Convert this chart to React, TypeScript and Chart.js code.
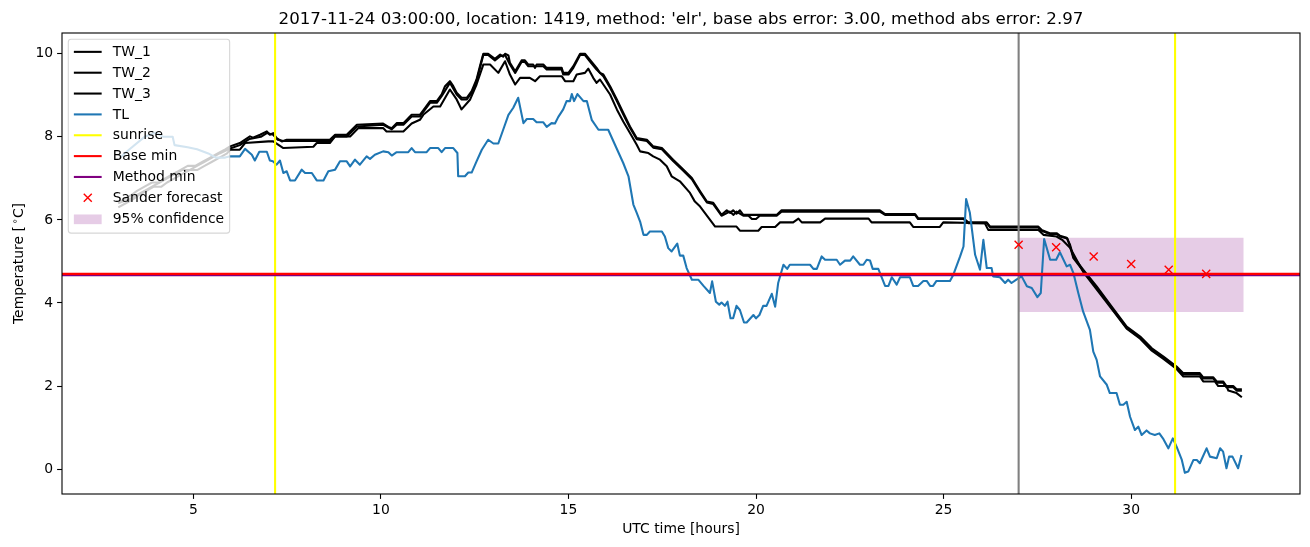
import React, { useEffect, useRef } from "react";
import { Chart, registerables } from "chart.js";

Chart.register(...registerables);

const titleText =
  "2017-11-24 03:00:00, location: 1419, method: 'elr', base abs error: 3.00, method abs error: 2.97";
const xLabel = "UTC time [hours]";

const xMin = 1.5;
const xMax = 34.5;
const yMin = -0.6;
const yMax = 10.5;
const xTicks = [5, 10, 15, 20, 25, 30];
const yTicks = [0, 2, 4, 6, 8, 10];

// [hour, temperature]
const tw1: [number, number][] = [
  [3.0, 6.4], [3.15, 6.5], [3.35, 6.6], [3.5, 6.7], [3.7, 6.8], [3.9, 6.9], [4.1, 6.9], [4.25, 7.0],
  [4.45, 7.1], [4.65, 7.2], [4.85, 7.3], [5.05, 7.3], [5.25, 7.4], [5.45, 7.5], [5.65, 7.6], [5.85, 7.7],
  [5.98, 7.77], [6.24, 7.85], [6.51, 8.01], [6.59, 7.98], [6.78, 8.05], [6.96, 8.13], [7.04, 8.05],
  [7.13, 8.09], [7.22, 7.97], [7.36, 7.89], [7.49, 7.93], [8.64, 7.93], [8.78, 8.05], [9.09, 8.05],
  [9.36, 8.29], [10.06, 8.32], [10.2, 8.24], [10.29, 8.21], [10.42, 8.33], [10.6, 8.33], [10.82, 8.53],
  [11.04, 8.53], [11.13, 8.64], [11.31, 8.86], [11.49, 8.86], [11.62, 9.02], [11.71, 9.22], [11.84, 9.34],
  [11.93, 9.22], [12.02, 9.06], [12.15, 8.94], [12.29, 8.94], [12.42, 9.1], [12.55, 9.38], [12.64, 9.7],
  [12.73, 10.0], [12.86, 10.0], [13.04, 9.88], [13.18, 9.98], [13.26, 9.93], [13.31, 10.0], [13.4, 9.96],
  [13.44, 9.78], [13.58, 9.58], [13.75, 9.84], [13.84, 9.84], [13.93, 9.74], [14.06, 9.74], [14.11, 9.66],
  [14.15, 9.74], [14.33, 9.74], [14.42, 9.66], [14.82, 9.66], [14.86, 9.54], [15.0, 9.54], [15.13, 9.7],
  [15.31, 10.0], [15.44, 10.0], [15.57, 9.86], [15.75, 9.66], [15.84, 9.54], [15.93, 9.5], [16.11, 9.22],
  [16.29, 8.9], [16.46, 8.58], [16.64, 8.25], [16.82, 7.97], [17.09, 7.93], [17.26, 7.77], [17.49, 7.73],
  [17.79, 7.45], [18.02, 7.25], [18.29, 7.01], [18.51, 6.69], [18.69, 6.44], [18.86, 6.41], [19.08, 6.12],
  [19.22, 6.23], [19.31, 6.17], [19.39, 6.23], [19.48, 6.15], [19.57, 6.23], [19.66, 6.12], [20.55, 6.12],
  [20.68, 6.23], [23.3, 6.23], [23.44, 6.14], [24.24, 6.14], [24.32, 6.04], [25.53, 6.04], [25.66, 5.94],
  [26.15, 5.94], [26.24, 5.84], [27.52, 5.84], [27.61, 5.76], [27.83, 5.68], [28.01, 5.68], [28.1, 5.62],
  [28.28, 5.57], [28.37, 5.4], [28.46, 5.11], [28.72, 4.8], [29.08, 4.4], [29.48, 3.91], [29.88, 3.43],
  [30.24, 3.19], [30.55, 2.91], [30.86, 2.71], [31.21, 2.47], [31.39, 2.31], [31.83, 2.31], [31.92, 2.21],
  [32.19, 2.21], [32.28, 2.11], [32.45, 2.11], [32.54, 2.0], [32.72, 2.0], [32.81, 1.92], [32.95, 1.92],
];

const tw2: [number, number][] = [
  [3.0, 6.4], [3.3, 6.5], [3.5, 6.6], [3.7, 6.7], [3.9, 6.8], [4.1, 6.9], [4.3, 7.0], [4.5, 7.1],
  [4.7, 7.2], [4.9, 7.2], [5.1, 7.3], [5.3, 7.4], [5.5, 7.5], [5.7, 7.6], [5.98, 7.72], [6.24, 7.8],
  [6.5, 7.95], [6.8, 8.0], [6.96, 8.09], [7.13, 8.05], [7.25, 7.93], [7.4, 7.9], [8.64, 7.9], [8.78, 8.01],
  [9.09, 8.01], [9.36, 8.25], [10.06, 8.29], [10.29, 8.18], [10.42, 8.29], [10.6, 8.29], [10.82, 8.49],
  [11.04, 8.49], [11.31, 8.82], [11.49, 8.82], [11.62, 8.98], [11.84, 9.3], [12.02, 9.02], [12.15, 8.9],
  [12.29, 8.9], [12.42, 9.06], [12.55, 9.34], [12.73, 9.97], [12.86, 9.97], [13.04, 9.84], [13.18, 9.94],
  [13.31, 9.97], [13.44, 9.74], [13.58, 9.54], [13.75, 9.8], [13.84, 9.8], [13.93, 9.7], [14.33, 9.7],
  [14.42, 9.62], [14.82, 9.62], [14.86, 9.5], [15.0, 9.5], [15.13, 9.66], [15.31, 9.97], [15.44, 9.97],
  [15.57, 9.82], [15.75, 9.62], [15.93, 9.46], [16.11, 9.18], [16.29, 8.86], [16.46, 8.54], [16.64, 8.22],
  [16.82, 7.94], [17.09, 7.9], [17.26, 7.74], [17.49, 7.7], [17.79, 7.42], [18.02, 7.22], [18.29, 6.98],
  [18.51, 6.66], [18.69, 6.42], [18.86, 6.38], [19.08, 6.1], [19.3, 6.2], [19.4, 6.12], [19.48, 6.2],
  [19.66, 6.1], [19.8, 6.1], [19.89, 6.02], [20.0, 6.02], [20.1, 6.1], [20.55, 6.1], [20.68, 6.2],
  [23.3, 6.2], [23.44, 6.12], [24.24, 6.12], [24.32, 6.02], [25.53, 6.02], [25.66, 5.92], [26.15, 5.92],
  [26.24, 5.82], [27.52, 5.82], [27.61, 5.74], [27.83, 5.66], [28.01, 5.66], [28.1, 5.6], [28.3, 5.55],
  [28.37, 5.36], [28.46, 5.08], [28.72, 4.77], [29.08, 4.37], [29.48, 3.88], [29.88, 3.4], [30.24, 3.16],
  [30.55, 2.88], [30.86, 2.68], [31.21, 2.44], [31.39, 2.28], [31.83, 2.28], [31.92, 2.18], [32.19, 2.18],
  [32.28, 2.08], [32.45, 2.08], [32.54, 1.97], [32.72, 1.97], [32.81, 1.89], [32.95, 1.89],
];

const tw3: [number, number][] = [
  [3.0, 6.3], [3.2, 6.4], [3.4, 6.5], [3.55, 6.6], [3.75, 6.7], [3.95, 6.8], [4.15, 6.8], [4.3, 6.9],
  [4.5, 7.0], [4.7, 7.1], [4.9, 7.2], [5.1, 7.2], [5.3, 7.3], [5.5, 7.4], [5.7, 7.5], [5.9, 7.6],
  [5.98, 7.69], [6.24, 7.69], [6.38, 7.85], [7.0, 7.89], [7.13, 7.89], [7.4, 7.73], [8.2, 7.76],
  [8.29, 7.85], [8.64, 7.85], [8.78, 8.01], [9.18, 8.01], [9.4, 8.21], [10.06, 8.21], [10.15, 8.13],
  [10.6, 8.13], [10.82, 8.32], [11.04, 8.41], [11.13, 8.53], [11.4, 8.73], [11.58, 8.73], [11.84, 9.14],
  [12.02, 8.9], [12.15, 8.66], [12.38, 8.9], [12.55, 9.26], [12.73, 9.74], [12.91, 9.74], [13.13, 9.54],
  [13.31, 9.82], [13.44, 9.5], [13.58, 9.26], [13.71, 9.42], [13.97, 9.42], [14.11, 9.34], [14.24, 9.46],
  [14.82, 9.46], [14.91, 9.34], [15.13, 9.34], [15.22, 9.5], [15.44, 9.54], [15.53, 9.64], [15.66, 9.42],
  [15.75, 9.3], [15.84, 9.38], [15.93, 9.26], [16.11, 9.02], [16.29, 8.66], [16.46, 8.37], [16.64, 8.09],
  [16.82, 7.81], [16.91, 7.65], [17.13, 7.61], [17.26, 7.53], [17.44, 7.45], [17.62, 7.29], [17.75, 7.05],
  [17.97, 6.93], [18.24, 6.65], [18.37, 6.44], [18.51, 6.32], [18.91, 5.84], [19.48, 5.84], [19.57, 5.74],
  [20.06, 5.74], [20.15, 5.83], [20.51, 5.83], [20.64, 5.94], [20.99, 5.94], [21.13, 6.03], [21.22, 5.94],
  [21.71, 5.94], [21.84, 6.03], [23.0, 6.03], [23.08, 5.94], [24.1, 5.94], [24.19, 5.83], [24.9, 5.83],
  [24.99, 5.94], [26.1, 5.92], [26.19, 5.76], [27.52, 5.76], [27.66, 5.64], [28.01, 5.6], [28.16, 5.52],
  [28.37, 5.33], [28.72, 4.75], [29.48, 3.86], [29.88, 3.38], [30.24, 3.14], [30.55, 2.85], [30.86, 2.65],
  [31.21, 2.41], [31.39, 2.23], [31.83, 2.23], [31.92, 2.11], [32.23, 2.11], [32.32, 2.0], [32.54, 2.0],
  [32.59, 1.89], [32.81, 1.83], [32.95, 1.73],
];

const tl: [number, number][] = [
  [3.05, 7.5], [3.3, 7.7], [3.7, 8.0], [4.0, 8.1], [4.2, 8.0], [4.45, 8.0], [4.5, 7.8], [4.85, 7.75],
  [5.1, 7.7], [5.4, 7.6], [5.6, 7.5], [5.85, 7.5], [5.98, 7.53], [6.24, 7.53], [6.38, 7.71], [6.56, 7.57],
  [6.64, 7.43], [6.76, 7.64], [6.96, 7.64], [7.04, 7.43], [7.12, 7.41], [7.22, 7.33], [7.31, 7.43],
  [7.4, 7.13], [7.49, 7.17], [7.58, 6.95], [7.71, 6.95], [7.89, 7.21], [7.98, 7.13], [8.16, 7.13],
  [8.29, 6.95], [8.47, 6.95], [8.6, 7.17], [8.78, 7.21], [8.91, 7.41], [9.09, 7.41], [9.18, 7.29],
  [9.31, 7.45], [9.44, 7.33], [9.62, 7.53], [9.71, 7.47], [9.84, 7.57], [10.06, 7.65], [10.2, 7.63],
  [10.29, 7.55], [10.42, 7.63], [10.73, 7.63], [10.82, 7.73], [10.91, 7.63], [11.22, 7.63], [11.31, 7.73],
  [11.53, 7.73], [11.62, 7.63], [11.71, 7.73], [11.93, 7.73], [12.04, 7.61], [12.06, 7.05], [12.24, 7.05],
  [12.33, 7.14], [12.42, 7.14], [12.55, 7.41], [12.69, 7.69], [12.86, 7.93], [13.0, 7.84], [13.13, 7.84],
  [13.26, 8.17], [13.4, 8.53], [13.53, 8.7], [13.66, 8.94], [13.8, 8.33], [13.89, 8.43], [14.06, 8.43],
  [14.15, 8.35], [14.33, 8.35], [14.42, 8.24], [14.55, 8.33], [14.64, 8.32], [14.73, 8.48], [14.86, 8.66],
  [14.95, 8.86], [15.04, 8.86], [15.09, 9.03], [15.15, 8.86], [15.24, 9.03], [15.4, 8.86], [15.49, 8.86],
  [15.62, 8.41], [15.8, 8.17], [16.06, 8.17], [16.24, 7.81], [16.46, 7.37], [16.6, 7.05], [16.73, 6.37],
  [16.82, 6.17], [16.91, 5.96], [17.0, 5.64], [17.09, 5.64], [17.17, 5.72], [17.49, 5.72], [17.57, 5.6],
  [17.66, 5.32], [17.75, 5.24], [17.9, 5.43], [17.97, 5.14], [18.06, 5.14], [18.15, 4.84], [18.29, 4.56],
  [18.46, 4.56], [18.6, 4.41], [18.77, 4.24], [18.83, 4.52], [18.93, 4.03], [19.02, 3.96], [19.08, 4.01],
  [19.17, 3.93], [19.24, 4.03], [19.32, 3.63], [19.39, 3.63], [19.48, 3.93], [19.57, 3.83], [19.68, 3.53],
  [19.75, 3.53], [19.93, 3.71], [20.0, 3.63], [20.09, 3.71], [20.19, 3.93], [20.28, 3.93], [20.42, 4.22],
  [20.51, 3.91], [20.59, 4.48], [20.73, 4.92], [20.83, 4.82], [20.9, 4.92], [21.44, 4.92], [21.53, 4.82],
  [21.62, 4.82], [21.75, 5.12], [21.84, 5.04], [22.15, 5.04], [22.24, 4.92], [22.37, 5.02], [22.51, 5.02],
  [22.59, 5.12], [22.77, 4.92], [22.86, 4.92], [22.95, 5.04], [23.04, 5.02], [23.11, 4.82], [23.26, 4.82],
  [23.44, 4.41], [23.53, 4.41], [23.62, 4.62], [23.75, 4.44], [23.84, 4.62], [24.1, 4.62], [24.19, 4.41],
  [24.32, 4.41], [24.46, 4.53], [24.55, 4.53], [24.64, 4.41], [24.72, 4.41], [24.81, 4.53], [25.17, 4.53],
  [25.26, 4.68], [25.44, 5.12], [25.53, 5.36], [25.6, 6.5], [25.7, 6.17], [25.84, 5.16], [25.97, 4.8],
  [26.06, 5.52], [26.15, 4.84], [26.28, 4.84], [26.32, 4.64], [26.5, 4.62], [26.64, 4.48], [26.72, 4.56],
  [26.81, 4.48], [26.95, 4.57], [27.08, 4.64], [27.22, 4.4], [27.35, 4.36], [27.5, 4.14], [27.59, 4.24],
  [27.68, 5.54], [27.84, 5.04], [28.0, 5.04], [28.1, 5.22], [28.28, 4.88], [28.37, 4.92], [28.46, 4.72],
  [28.59, 4.24], [28.72, 3.79], [28.9, 3.35], [28.99, 2.83], [29.08, 2.63], [29.17, 2.23], [29.35, 2.03],
  [29.43, 1.83], [29.61, 1.83], [29.7, 1.55], [29.79, 1.55], [29.88, 1.62], [29.97, 1.26], [30.1, 0.94],
  [30.19, 1.02], [30.28, 0.82], [30.41, 0.93], [30.5, 0.86], [30.63, 0.82], [30.75, 0.86], [30.86, 0.72],
  [30.99, 0.5], [31.11, 0.74], [31.21, 0.54], [31.35, 0.22], [31.43, -0.09], [31.52, -0.06], [31.66, 0.22],
  [31.75, 0.22], [31.83, 0.14], [32.01, 0.5], [32.1, 0.3], [32.28, 0.26], [32.37, 0.5], [32.45, 0.42],
  [32.54, 0.02], [32.61, 0.3], [32.7, 0.3], [32.85, 0.02], [32.94, 0.34],
];

const sunriseHours = [7.18, 31.17];
const forecastStartHour = 27.0;
const baseMin = 4.7;
const methodMin = 4.67;
const forecastHours = [27, 28, 29, 30, 31, 32];
const forecastTemp = [5.4, 5.34, 5.12, 4.94, 4.8, 4.7];
const confHours = [27, 33];
const confLow = [3.78, 3.78];
const confHigh = [5.57, 5.57];

const FONT = "'DejaVu Sans', 'Liberation Sans', sans-serif";
const LW = 2.08;
const PURPLE_FILL = "rgba(128,0,128,0.2)";

const pts = (arr: [number, number][]) => arr.map(([x, y]) => ({ x, y }));

const legendItems = [
  { label: "TW_1", kind: "line", color: "#000000" },
  { label: "TW_2", kind: "line", color: "#000000" },
  { label: "TW_3", kind: "line", color: "#000000" },
  { label: "TL", kind: "line", color: "#1f77b4" },
  { label: "sunrise", kind: "line", color: "#ffff00" },
  { label: "Base min", kind: "line", color: "#ff0000" },
  { label: "Method min", kind: "line", color: "#800080" },
  { label: "Sander forecast", kind: "marker", color: "#ff0000" },
  { label: "95% confidence", kind: "patch", color: PURPLE_FILL },
];

function drawX(ctx: CanvasRenderingContext2D, x: number, y: number, h: number, color: string) {
  ctx.save();
  ctx.strokeStyle = color;
  ctx.lineWidth = 1.39;
  ctx.beginPath();
  ctx.moveTo(x - h, y - h);
  ctx.lineTo(x + h, y + h);
  ctx.moveTo(x - h, y + h);
  ctx.lineTo(x + h, y - h);
  ctx.stroke();
  ctx.restore();
}

const decorPlugin = {
  id: "decor",
  afterDraw(chart: any) {
    const ctx: CanvasRenderingContext2D = chart.ctx;
    const a = chart.chartArea;
    ctx.save();
    // frame
    ctx.strokeStyle = "#000";
    ctx.lineWidth = 1.1;
    ctx.strokeRect(a.left, a.top, a.right - a.left, a.bottom - a.top);

    // title
    ctx.fillStyle = "#000";
    ctx.font = `16.67px ${FONT}`;
    ctx.textAlign = "center";
    ctx.textBaseline = "alphabetic";
    ctx.fillText(titleText, (a.left + a.right) / 2, a.top - 8.8);

    // x label
    ctx.font = `13.9px ${FONT}`;
    ctx.textBaseline = "top";
    ctx.fillText(xLabel, (a.left + a.right) / 2, a.bottom + 28);

    // y label
    ctx.save();
    ctx.translate(18, (a.top + a.bottom) / 2);
    ctx.rotate(-Math.PI / 2);
    ctx.textAlign = "left";
    ctx.textBaseline = "alphabetic";
    const p1 = "Temperature [";
    const p2 = "\u2218";
    const p3 = "C]";
    ctx.font = `13.9px ${FONT}`;
    const w1 = ctx.measureText(p1).width;
    const w3 = ctx.measureText(p3).width;
    ctx.font = `9.7px ${FONT}`;
    const w2 = ctx.measureText(p2).width;
    const total = w1 + 2 + w2 + w3;
    let cx = -total / 2;
    ctx.font = `13.9px ${FONT}`;
    ctx.fillText(p1, cx, 5);
    cx += w1 + 2;
    ctx.font = `9.7px ${FONT}`;
    ctx.fillText(p2, cx, 0);
    cx += w2;
    ctx.font = `13.9px ${FONT}`;
    ctx.fillText(p3, cx, 5);
    ctx.restore();

    // legend
    ctx.font = `13.9px ${FONT}`;
    let maxW = 0;
    legendItems.forEach((it) => {
      maxW = Math.max(maxW, ctx.measureText(it.label).width);
    });
    const bx = a.left + 6.3;
    const by = a.top + 6.3;
    const pad = 5.56;
    const rowH = 20.85;
    const handleX0 = bx + pad;
    const handleX1 = handleX0 + 27.8;
    const textX = handleX1 + 11.1;
    const bw = textX + maxW + pad - bx;
    const bh = pad * 2 + rowH * legendItems.length - 6.95 + 2;
    ctx.beginPath();
    if ((ctx as any).roundRect) (ctx as any).roundRect(bx, by, bw, bh, 2.8);
    else ctx.rect(bx, by, bw, bh);
    ctx.fillStyle = "rgba(255,255,255,0.8)";
    ctx.fill();
    ctx.strokeStyle = "rgba(204,204,204,0.8)";
    ctx.lineWidth = 1.1;
    ctx.stroke();

    legendItems.forEach((it, i) => {
      const cy = by + pad + 7 + i * rowH;
      if (it.kind === "line") {
        ctx.strokeStyle = it.color;
        ctx.lineWidth = LW;
        ctx.beginPath();
        ctx.moveTo(handleX0, cy);
        ctx.lineTo(handleX1, cy);
        ctx.stroke();
      } else if (it.kind === "marker") {
        drawX(ctx, (handleX0 + handleX1) / 2, cy, 4, it.color);
      } else {
        ctx.fillStyle = it.color;
        ctx.fillRect(handleX0, cy - 4.2, handleX1 - handleX0, 9.7);
      }
      ctx.fillStyle = "#000";
      ctx.textAlign = "left";
      ctx.textBaseline = "middle";
      ctx.fillText(it.label, textX, cy + 0.5);
    });
    ctx.restore();
  },
};

const lineDs = (label: string, data: any[], color: string, extra: any = {}) => ({
  label,
  data,
  borderColor: color,
  backgroundColor: color,
  borderWidth: LW,
  pointRadius: 0,
  pointHoverRadius: 0,
  tension: 0,
  fill: false,
  borderJoinStyle: "round",
  ...extra,
});

export default function App() {
  const ref = useRef<HTMLCanvasElement | null>(null);
  useEffect(() => {
    if (!ref.current) return;
    const datasets: any[] = [
      lineDs("confLow", confHours.map((h, i) => ({ x: h, y: confLow[i] })), "rgba(0,0,0,0)", { borderWidth: 0 }),
      lineDs("confHigh", confHours.map((h, i) => ({ x: h, y: confHigh[i] })), "rgba(0,0,0,0)", {
        borderWidth: 0,
        fill: "-1",
        backgroundColor: PURPLE_FILL,
      }),
      lineDs("TW_1", pts(tw1), "#000000"),
      lineDs("TW_2", pts(tw2), "#000000"),
      lineDs("TW_3", pts(tw3), "#000000"),
      lineDs("TL", pts(tl), "#1f77b4"),
      ...sunriseHours.map((h) =>
        lineDs("sunrise", [{ x: h, y: yMin - 1 }, { x: h, y: yMax + 1 }], "#ffff00")
      ),
      lineDs("start", [{ x: forecastStartHour, y: yMin - 1 }, { x: forecastStartHour, y: yMax + 1 }], "#808080"),
      lineDs("Method min", [{ x: xMin - 1, y: methodMin }, { x: xMax + 1, y: methodMin }], "#800080"),
      lineDs("Base min", [{ x: xMin - 1, y: baseMin }, { x: xMax + 1, y: baseMin }], "#ff0000"),
      lineDs("Sander forecast", forecastHours.map((h, i) => ({ x: h, y: forecastTemp[i] })), "#ff0000", {
        showLine: false,
        pointStyle: "crossRot",
        pointRadius: 5.7,
        pointBorderWidth: 1.39,
        borderWidth: 1.39,
      }),
    ];
    const n = datasets.length;
    datasets.forEach((d, i) => (d.order = n - i));

    const tickFont = { family: FONT, size: 13.9 };
    const chart = new Chart(ref.current, {
      type: "line",
      data: { datasets },
      plugins: [decorPlugin],
      options: {
        responsive: false,
        devicePixelRatio: 1,
        animation: false,
        parsing: true,
        layout: { padding: { top: 33, right: 10, left: 0, bottom: 0 } },
        plugins: {
          legend: { display: false },
          tooltip: { enabled: false },
          title: { display: false },
        },
        scales: {
          x: {
            type: "linear",
            min: xMin,
            max: xMax,
            afterBuildTicks: (s: any) => {
              s.ticks = xTicks.map((v) => ({ value: v }));
            },
            afterFit: (s: any) => {
              s.height = 53;
            },
            ticks: { font: tickFont, color: "#000", padding: 3, maxRotation: 0, autoSkip: false },
            grid: {
              drawOnChartArea: false,
              drawTicks: true,
              tickLength: 4.9,
              tickColor: "#000",
              tickWidth: 1.1,
            },
            border: { display: false },
          },
          y: {
            type: "linear",
            min: yMin,
            max: yMax,
            afterBuildTicks: (s: any) => {
              s.ticks = yTicks.map((v) => ({ value: v }));
            },
            afterFit: (s: any) => {
              s.width = 62;
            },
            ticks: { font: tickFont, color: "#000", padding: 4, autoSkip: false },
            grid: {
              drawOnChartArea: false,
              drawTicks: true,
              tickLength: 4.9,
              tickColor: "#000",
              tickWidth: 1.1,
            },
            border: { display: false },
          },
        },
      } as any,
    });
    return () => chart.destroy();
  }, []);

  return (
    <div style={{ position: "absolute", left: 0, top: 0, width: 1310, height: 547, background: "#fff" }}>
      <canvas ref={ref} width={1310} height={547} style={{ display: "block" }} />
    </div>
  );
}
